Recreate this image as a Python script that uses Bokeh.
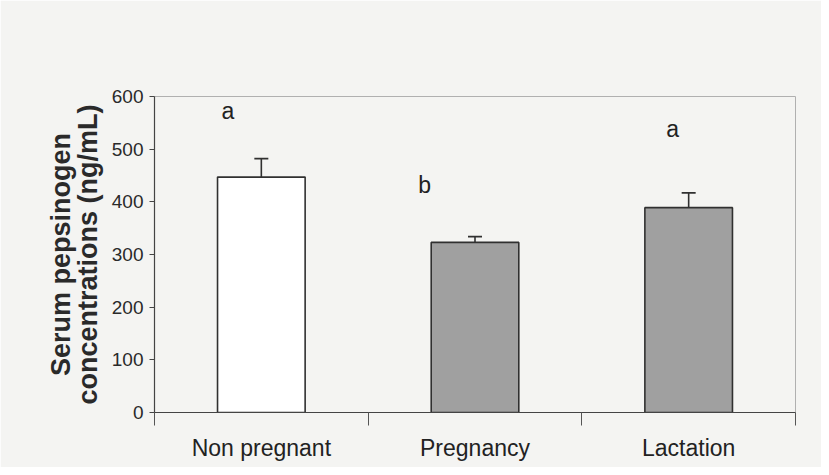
from bokeh.plotting import figure
from bokeh.models import FixedTicker, Whisker, ColumnDataSource, TeeHead, Range1d, LinearAxis
from bokeh.core.properties import value
from bokeh.embed import file_html
from bokeh.resources import INLINE

categories = ["Non pregnant", "Pregnancy", "Lactation"]
means = [447, 323, 389]
errors = [35, 11, 28]
letters = ["a", "b", "a"]
letter_y = [573, 432, 538]
letter_offset = [-0.156, -0.236, -0.075]
fills = ["#ffffff", "#a0a0a0", "#a0a0a0"]
y_ticks = [0, 100, 200, 300, 400, 500, 600]
y_title_lines = ["Serum pepsinogen", "concentrations (ng/mL)"]

xc = [i + 0.5 for i in range(len(categories))]
src = ColumnDataSource(dict(
    x=xc, top=means, fill=fills,
    upper=[m + e for m, e in zip(means, errors)],
    lx=[c + o for c, o in zip(xc, letter_offset)], ly=letter_y, lt=letters,
))

bg = "#f4f4f2"
p = figure(width=821, height=467, output_backend="svg", toolbar_location=None,
           x_range=Range1d(0, 3), y_range=Range1d(0, 600),
           min_border_left=154, min_border_right=26, min_border_top=96, min_border_bottom=55,
           background_fill_color=bg, border_fill_color=bg)
p.grid.visible = False
p.outline_line_color = "#b0b0b0"
p.outline_line_width = 1

p.vbar(x="x", top="top", bottom=0, width=0.41, source=src, fill_color="fill",
       line_color="#303030", line_width=1.6)
w = Whisker(base="x", lower="top", upper="upper", source=src,
            line_color="#303030", line_width=1.6,
            upper_head=TeeHead(size=14, line_color="#303030", line_width=1.6), lower_head=None)
p.add_layout(w)
p.text(x="lx", y="ly", text="lt", source=src, text_align="center", text_baseline="middle",
       text_font=value("Liberation Sans"), text_font_size="23px", text_color="#222222")

xa = p.xaxis[0]
xa.ticker = FixedTicker(ticks=xc, minor_ticks=[0, 1, 2, 3])
xa.major_label_overrides = {x: c for x, c in zip(xc, categories)}
xa.major_tick_in = 0
xa.major_tick_out = 0
xa.minor_tick_in = 0
xa.minor_tick_out = 13
xa.minor_tick_line_color = "#555555"
xa.major_label_standoff = 9
xa.major_label_text_font = "Liberation Sans"
xa.major_label_text_font_size = "23px"
xa.major_label_text_color = "#222222"
xa.axis_line_color = "#444444"
xa.axis_line_width = 1.2

ya = p.yaxis[0]
ya.ticker = FixedTicker(ticks=y_ticks, minor_ticks=[])
ya.major_tick_in = 0
ya.major_tick_out = 5
ya.major_tick_line_color = "#444444"
ya.major_label_standoff = 6
ya.major_label_text_font = "Liberation Sans"
ya.major_label_text_font_size = "19px"
ya.major_label_text_color = "#2a2a2a"
ya.axis_line_color = "#444444"
ya.axis_line_width = 1.2
ya.axis_label = y_title_lines[1]
ya.axis_label_standoff = 6

outer = LinearAxis(ticker=FixedTicker(ticks=[], minor_ticks=[]), axis_line_color=None,
                   major_tick_line_color=None, minor_tick_line_color=None,
                   major_label_text_font_size="0px", axis_label=y_title_lines[0],
                   axis_label_standoff=-6)
p.add_layout(outer, "left")

for ax in (ya, outer):
    ax.axis_label_text_font = "Liberation Sans"
    ax.axis_label_text_font_style = "bold"
    ax.axis_label_text_font_size = "27px"
    ax.axis_label_text_color = "#2a2a2a"

open("out.html", "w").write(file_html(p, INLINE))
